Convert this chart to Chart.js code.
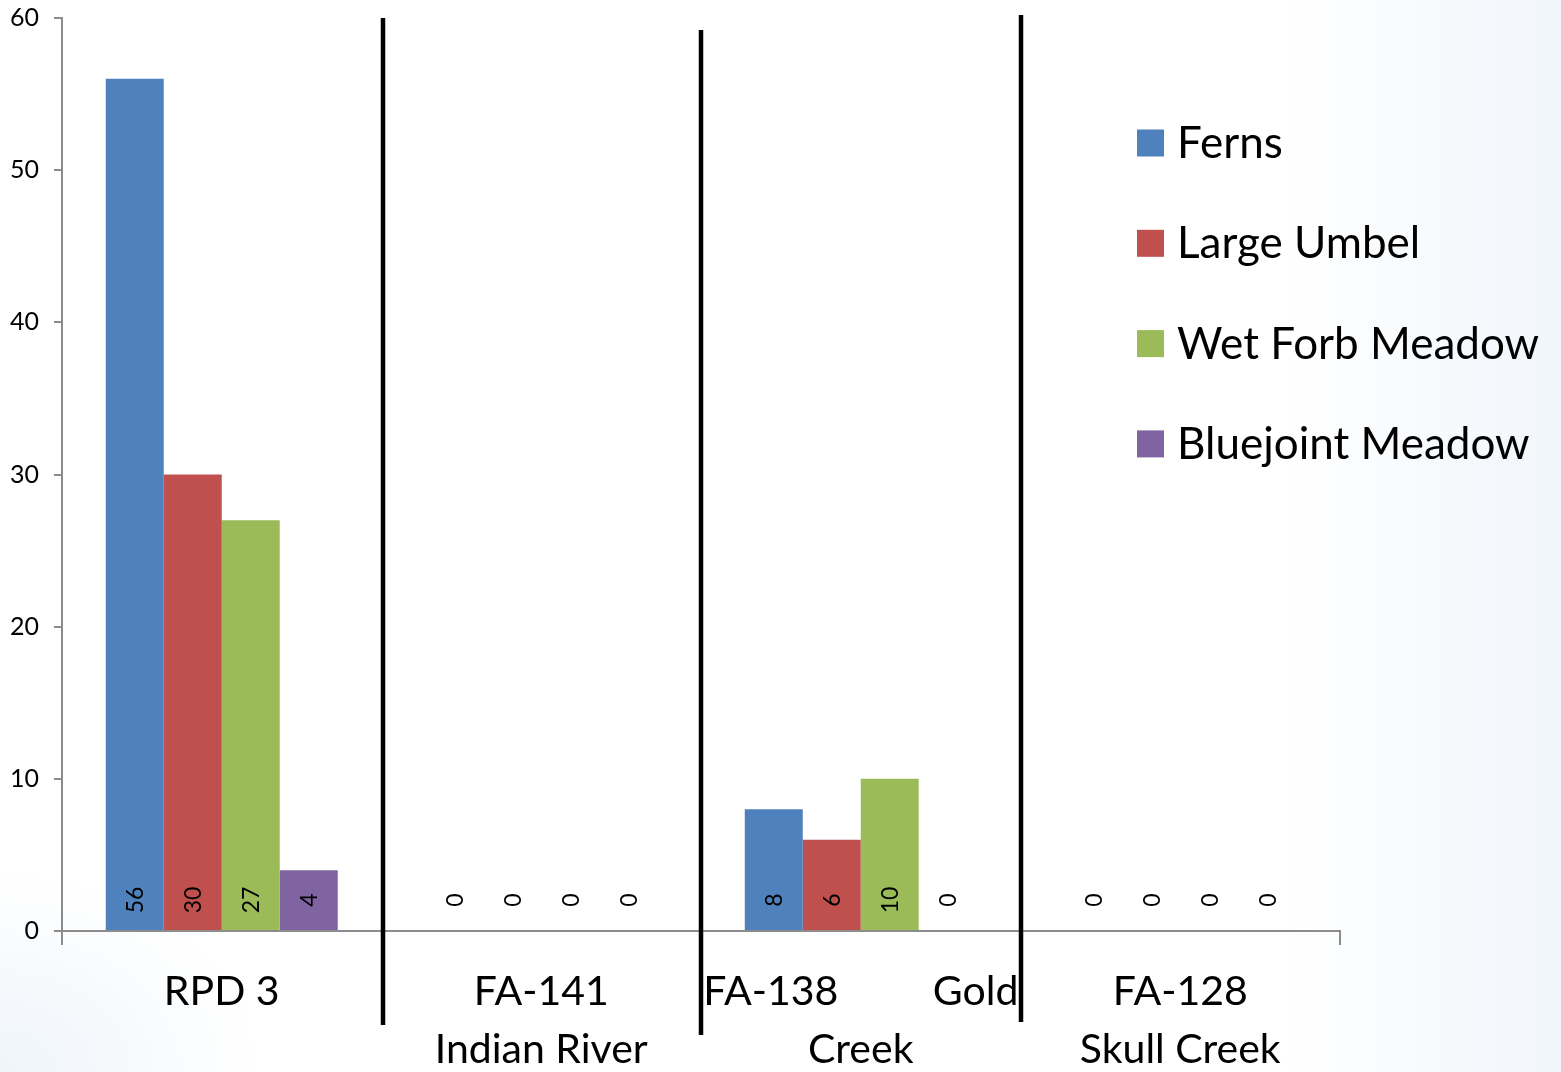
<!DOCTYPE html>
<html>
<head>
<meta charset="utf-8">
<title>Vegetation types by site</title>
<script src="https://cdn.jsdelivr.net/npm/chart.js@4/dist/chart.umd.min.js"></script>
<style>
  html, body { margin: 0; padding: 0; }
  body {
    width: 1561px; height: 1072px; overflow: hidden;
    background:
      radial-gradient(ellipse 260px 200px at 0% 100%, rgba(225,236,246,0.55), rgba(255,255,255,0) 100%),
      linear-gradient(to right, #ffffff 0%, #ffffff 82%, #f1f6fb 100%);
  }
  #wrap { position: absolute; left: 0; top: 0; width: 1561px; height: 1072px; }
</style>
</head>
<body>
<div id="wrap"><canvas id="chart" width="1561" height="1072"></canvas></div>
<script>
// Sites along the x axis (multi-line labels as arrays of lines)
const categories = [
  ['RPD 3'],
  ['FA-141', 'Indian River'],
  ['FA-138         Gold', 'Creek'],
  ['FA-128', 'Skull Creek']
];

// Counts per vegetation type at each site
const ferns = [56, 0, 8, 0];
const largeUmbel = [30, 0, 6, 0];
const wetForbMeadow = [27, 0, 10, 0];
const bluejointMeadow = [4, 0, 0, 0];

// Y axis range and step
const yMin = 0;
const yMax = 60;
const yStep = 10;

const seriesNames = ['Ferns', 'Large Umbel', 'Wet Forb Meadow', 'Bluejoint Meadow'];
const seriesColors = ['#4F81BD', '#C0504D', '#9BBB59', '#8064A2'];
const seriesValues = [ferns, largeUmbel, wetForbMeadow, bluejointMeadow];

const FONT = 'Lato, "Open Sans", "DejaVu Sans", sans-serif';

// Rotated value labels sitting at the foot of each bar
const barValueLabels = {
  id: 'barValueLabels',
  afterDatasetsDraw(chart) {
    const ctx = chart.ctx;
    const y0 = chart.scales.y.getPixelForValue(0);
    ctx.save();
    ctx.fillStyle = '#000';
    ctx.font = '23px ' + FONT;
    ctx.textAlign = 'center';
    ctx.textBaseline = 'middle';
    chart.data.datasets.forEach((ds, di) => {
      const meta = chart.getDatasetMeta(di);
      meta.data.forEach((el, i) => {
        ctx.save();
        ctx.translate(el.x, y0 - 31);
        ctx.rotate(-Math.PI / 2);
        ctx.fillText(String(ds.data[i]), 0, 1);
        ctx.restore();
      });
    });
    ctx.restore();
  }
};

// Heavy black dividers between the sites
const siteDividers = {
  id: 'siteDividers',
  afterDraw(chart) {
    const ctx = chart.ctx;
    const xs = chart.scales.x;
    const area = chart.chartArea;
    // top / bottom offsets of each hand-placed divider
    const ends = [[0, 94], [12, 104], [-3, 91]];
    ctx.save();
    ctx.strokeStyle = '#000';
    ctx.lineWidth = 4.5;
    for (let i = 0; i < categories.length - 1; i++) {
      const x = Math.round((xs.getPixelForValue(i) + xs.getPixelForValue(i + 1)) / 2) + (i === 0 ? 1 : 0);
      ctx.beginPath();
      ctx.moveTo(x, area.top + ends[i][0]);
      ctx.lineTo(x, area.bottom + ends[i][1]);
      ctx.stroke();
    }
    ctx.restore();
  }
};

// Legend column on the right, drawn over the plot
const sideLegend = {
  id: 'sideLegend',
  afterDraw(chart) {
    const ctx = chart.ctx;
    const x0 = chart.width - 424;
    ctx.save();
    ctx.font = '44px ' + FONT;
    ctx.textBaseline = 'middle';
    ctx.textAlign = 'left';
    chart.data.datasets.forEach((ds, i) => {
      const cy = 143 + i * 100.3;
      ctx.fillStyle = ds.backgroundColor;
      ctx.fillRect(x0, cy - 13.5, 27, 27);
      ctx.fillStyle = '#000';
      ctx.fillText(ds.label, x0 + 40, cy + 1);
    });
    ctx.restore();
  }
};

new Chart(document.getElementById('chart'), {
  type: 'bar',
  data: {
    labels: categories,
    datasets: seriesNames.map((name, i) => ({
      label: name,
      data: seriesValues[i],
      backgroundColor: seriesColors[i],
      borderWidth: 0,
      categoryPercentage: 0.726,
      barPercentage: 1.0
    }))
  },
  options: {
    responsive: false,
    animation: false,
    devicePixelRatio: 1,
    layout: { padding: { top: 18, right: 221, left: 0, bottom: 0 } },
    plugins: {
      legend: { display: false },
      tooltip: { enabled: false }
    },
    scales: {
      x: {
        grid: {
          display: true,
          drawOnChartArea: false,
          drawTicks: true,
          tickLength: 14,
          color: '#8c8c8c',
          lineWidth: 2,
          offset: true
        },
        border: { display: true, color: '#8c8c8c', width: 2 },
        ticks: {
          color: '#000',
          font: { family: FONT, size: 41, lineHeight: 1.415 },
          padding: 18,
          maxRotation: 0,
          autoSkip: false
        },
        afterFit(scale) { scale.height = 141; }
      },
      y: {
        min: yMin,
        max: yMax,
        ticks: {
          stepSize: yStep,
          color: '#000',
          font: { family: FONT, size: 25 },
          padding: 15
        },
        grid: {
          display: true,
          drawOnChartArea: false,
          drawTicks: true,
          tickLength: 8,
          color: '#8c8c8c',
          lineWidth: 2
        },
        border: { display: true, color: '#8c8c8c', width: 2 },
        afterFit(scale) {
          scale.width = 62;
          scale.paddingTop = 0;
          scale.paddingBottom = 0;
        }
      }
    }
  },
  plugins: [barValueLabels, siteDividers, sideLegend]
});
</script>
</body>
</html>
